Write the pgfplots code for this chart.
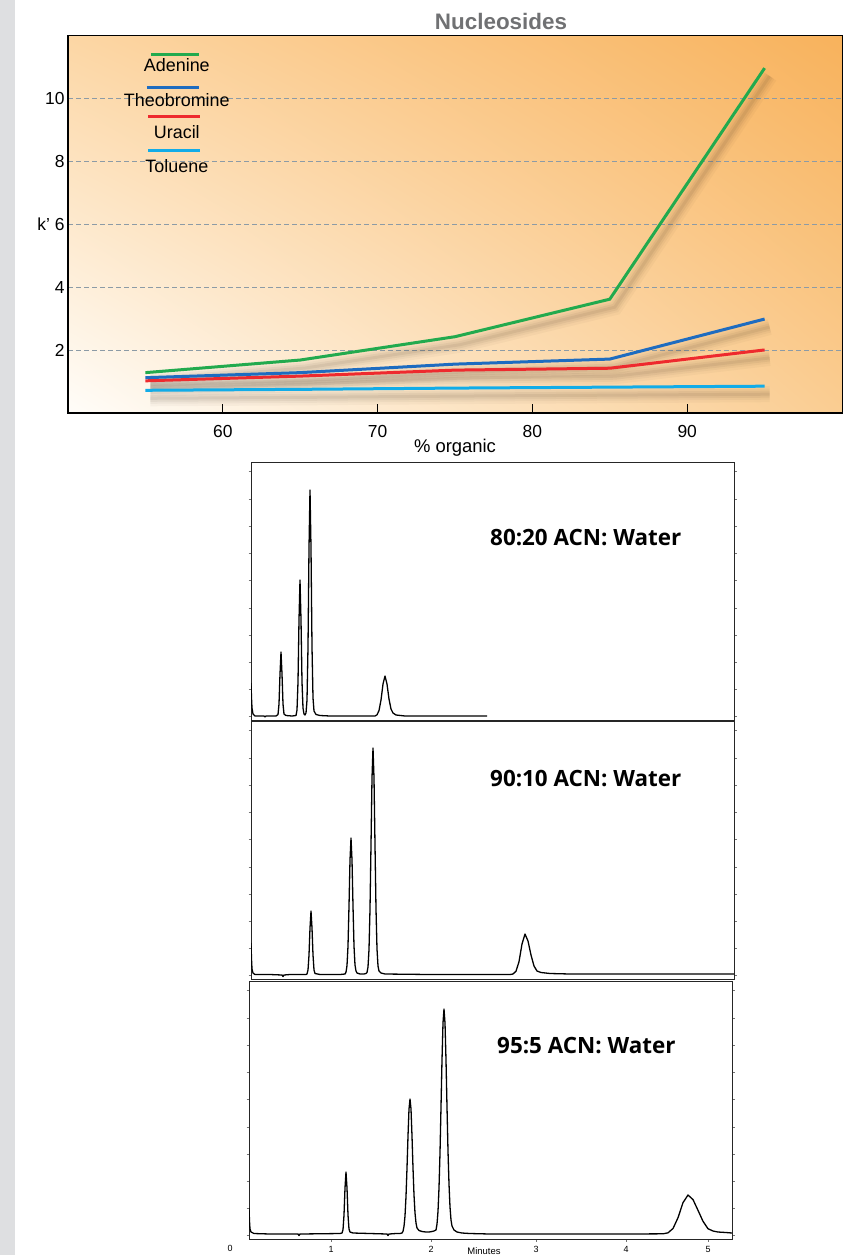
\documentclass[border=0pt]{standalone}
\usepackage{fontspec}
\setmainfont{Liberation Sans}
\newfontfamily\chromfont{Open Sans}
\usepackage{pgfplots}
\pgfplotsset{compat=1.18}
\usepackage{pgfplotstable}
\usetikzlibrary{shadings}
\definecolor{cgreen}{HTML}{22AA4E}
\definecolor{cblue}{HTML}{1E6CC0}
\definecolor{cred}{HTML}{EE2A2E}
\definecolor{ccyan}{HTML}{12ACE8}
\definecolor{stripgray}{HTML}{DEDFE1}
\definecolor{gridc}{HTML}{8C9BA6}
\definecolor{titlegray}{HTML}{707173}
\definecolor{bgUR}{HTML}{F8B25C}
\definecolor{bgUL}{HTML}{FCD6A4}
\definecolor{bgLR}{HTML}{FACD92}
\definecolor{bgLL}{HTML}{FFFDF9}
\definecolor{shadc}{HTML}{3A2A1A}

\pgfplotstableread{
x y
55 1.29
65 1.69
75 2.43
85 3.62
95 10.95
}\adenine
\pgfplotstableread{
x y
55 1.13
65 1.29
75 1.56
85 1.72
95 2.99
}\theobromine
\pgfplotstableread{
x y
55 1.03
65 1.18
75 1.37
85 1.43
95 2.01
}\uracil
\pgfplotstableread{
x y
55 0.73
65 0.76
75 0.80
85 0.83
95 0.86
}\toluene

\pgfplotsset{
  shad1/.style={shadc, opacity=0.035, line width=16bp, xshift=5bp, yshift=-8bp, forget plot},
  shad2/.style={shadc, opacity=0.045, line width=11bp, xshift=5bp, yshift=-8bp, forget plot},
  shad3/.style={shadc, opacity=0.06, line width=7bp, xshift=5bp, yshift=-8bp, forget plot},
  shad4/.style={shadc, opacity=0.07, line width=3bp, xshift=5bp, yshift=-8bp, forget plot},
  chrom/.style={width=483bp, height=258bp, scale only axis, anchor=south west,
    ymin=0, ymax=258, xtick=\empty,
    ytick={4,31,58,85,112,140,167,194,221,249},
    yticklabel style={text opacity=0},
    tick align=outside, ytick pos=both, major tick length=2.5bp,
    tick style={black!55, line width=0.5bp},
    axis line style={black!85, line width=0.8bp}},
  trace/.style={black, line width=1.3bp, no markers, line join=round},
}

\begin{document}
\begin{tikzpicture}
\useasboundingbox (0,0) rectangle (853bp,-1255bp);
\fill[stripgray] (0,0) rectangle (15bp,-1255bp);

\node[font=\bfseries\fontsize{22.5}{26}\selectfont, text=titlegray] at (501bp,-21bp) {Nucleosides};

\begin{axis}[
  at={(68bp,-413.3bp)}, anchor=south west,
  width=774bp, height=378.3bp, scale only axis,
  xmin=50, xmax=100, ymin=0, ymax=12,
  xtick={60,70,80,90}, xticklabels={60,70,80,90},
  ytick={2,4,6,8,10}, yticklabels={2,4,{k’ 6},8,10},
  xtick pos=bottom, ytick pos=left,
  tick align=inside, major tick length=9bp,
  xtick style={line width=1.3bp, black},
  ytick style={/pgfplots/major tick length=0pt},
  ymajorgrids,
  major grid style={line width=0.8bp, color=gridc, dash pattern=on 5bp off 3bp},
  ticklabel style={font=\fontsize{17.5}{20}\selectfont},
  xticklabel style={yshift=-9bp},
  axis line style={line width=1bp, black},
  axis background/.style={shade, lower left=bgLL, upper right=bgUR, upper left=bgUL, lower right=bgLR},
  clip=false,
]
\addplot[shad1] table {\adenine};
\addplot[shad1] table {\theobromine};
\addplot[shad1] table {\uracil};
\addplot[shad1] table {\toluene};
\addplot[shad2] table {\adenine};
\addplot[shad2] table {\theobromine};
\addplot[shad2] table {\uracil};
\addplot[shad2] table {\toluene};
\addplot[shad3] table {\adenine};
\addplot[shad3] table {\theobromine};
\addplot[shad3] table {\uracil};
\addplot[shad3] table {\toluene};
\addplot[shad4] table {\adenine};
\addplot[shad4] table {\theobromine};
\addplot[shad4] table {\uracil};
\addplot[shad4] table {\toluene};
\addplot[ccyan, line width=3bp] table {\toluene};
\addplot[cred, line width=3bp] table {\uracil};
\addplot[cblue, line width=3bp] table {\theobromine};
\addplot[cgreen, line width=3bp] table {\adenine};

\draw[line width=2bp] (rel axis cs:0,1) -- (rel axis cs:0,0) -- (rel axis cs:1,0);

\draw[cgreen, line width=2.8bp] (axis cs:55.35,11.37) -- (axis cs:58.45,11.37);
\node[font=\fontsize{18}{20}\selectfont] at (axis cs:57.03,11.03) {Adenine};
\draw[cblue, line width=2.8bp] (axis cs:55.1,10.33) -- (axis cs:58.45,10.33);
\node[font=\fontsize{18}{20}\selectfont] at (axis cs:57.03,9.95) {Theobromine};
\draw[cred, line width=2.8bp] (axis cs:55.2,9.41) -- (axis cs:58.5,9.41);
\node[font=\fontsize{18}{20}\selectfont] at (axis cs:57.03,8.93) {Uracil};
\draw[ccyan, line width=2.8bp] (axis cs:55.2,8.33) -- (axis cs:58.5,8.33);
\node[font=\fontsize{18}{20}\selectfont] at (axis cs:57.03,7.85) {Toluene};

\node[font=\fontsize{18.5}{20}\selectfont] at (axis description cs:0.5,0) [yshift=-34bp] {\% organic};
\end{axis}

% ---------- 80:20 ----------
\begin{axis}[chrom, at={(251bp,-720bp)}, xmin=0.21, xmax=5.04]
\addplot[trace] coordinates {
(0.21,37)(0.215,22)(0.22,12)(0.23,6)(0.25,4)(0.30,4)(0.34,4)(0.35,3)(0.36,4)(0.46,4)
(0.48,5.5)(0.49,16)(0.50,46)(0.51,68)(0.52,46)(0.53,16)(0.54,6)(0.56,4.5)(0.62,4)(0.66,4.5)
(0.67,10)(0.68,38)(0.69,100)(0.70,140)(0.71,100)(0.72,38)(0.73,12)(0.74,6)(0.75,5)
(0.76,7)(0.77,20)(0.78,73)(0.79,172)(0.80,230)(0.81,172)(0.82,73)(0.83,22)(0.84,9)(0.86,5.5)(0.90,4.5)(1.0,4)(1.3,4)(1.45,4)
(1.47,5.2)(1.49,9.4)(1.51,20)(1.53,36)(1.55,44)(1.57,36)(1.59,21)(1.61,11)(1.63,7)(1.66,5)(1.75,4)(2.0,4)(2.3,4)(2.57,4)
};
\end{axis}
\node[font=\chromfont\bfseries\fontsize{22.5}{26}\selectfont, anchor=base west, inner sep=0pt] at (490bp,-545bp) {80:20 ACN: Water};

% ---------- 90:10 ----------
\begin{axis}[chrom, at={(251bp,-979bp)}, xmin=0.21, xmax=5.04]
\addplot[trace] coordinates {
(0.21,36)(0.215,20)(0.22,10)(0.23,6)(0.25,4.5)(0.40,4.5)(0.52,4)(0.53,2.5)(0.54,4)(0.60,4.5)(0.76,4.5)
(0.77,5)(0.78,9)(0.79,24)(0.80,51)(0.81,68)(0.82,51)(0.83,24)(0.84,9)(0.85,5.5)(0.90,4.5)(1.10,4.5)
(1.15,5)(1.16,6.8)(1.17,13.5)(1.18,33)(1.19,73)(1.20,119)(1.21,141)(1.22,119)(1.23,73)(1.24,33)(1.25,14)(1.26,8)(1.27,6)(1.30,5)(1.34,5)
(1.36,5.5)(1.37,6.5)(1.38,12)(1.39,29.5)(1.40,70)(1.41,134)(1.42,201)(1.43,231)(1.44,201)(1.45,134)(1.46,70)(1.47,30)(1.48,13)(1.49,8)(1.51,6)(1.55,5)(2.0,4.5)(2.6,4.5)
(2.80,4.5)(2.83,5)(2.86,7.8)(2.89,17.3)(2.92,35)(2.95,45)(2.98,38)(3.01,24)(3.04,13)(3.07,8)(3.11,6.5)(3.20,5.5)(3.40,5)(4.0,5)(4.5,5)(5.04,5)
};
\end{axis}
\node[font=\chromfont\bfseries\fontsize{22.5}{26}\selectfont, anchor=base west, inner sep=0pt] at (490bp,-786.5bp) {90:10 ACN: Water};

% ---------- 95:5 ----------
\begin{axis}[chrom, at={(249bp,-1239bp)}, xmin=0.19, xmax=5.02,
  xtick={1.01,2.01,3.06,3.96,4.78}, xticklabels={1,2,3,4,5}, xtick pos=bottom,
  minor x tick num=4, minor tick length=1.5bp,
  xticklabel style={font=\fontsize{9}{10}\selectfont, yshift=-1bp, text opacity=1}]
\addplot[trace] coordinates {
(0.19,31)(0.195,18)(0.20,10)(0.21,7)(0.24,5.5)(0.40,5)(0.68,5)(0.69,3.5)(0.70,5)(1.10,5.5)
(1.12,6)(1.13,9.3)(1.14,24)(1.15,51)(1.16,67)(1.17,51)(1.18,24)(1.19,10)(1.20,7)(1.23,6)(1.40,5.5)(1.57,5)(1.58,3.5)(1.59,5)(1.66,5.5)
(1.70,5.5)(1.72,6)(1.73,7.7)(1.74,12.6)(1.75,23)(1.76,42.5)(1.77,71)(1.78,103)(1.79,130)(1.80,140)(1.81,130)(1.82,103)(1.83,71)(1.84,44)(1.85,26)(1.86,16)(1.87,11)(1.89,8.5)(1.92,7.5)(1.96,7)(1.99,7)(2.02,7.5)
(2.04,8)(2.06,9)(2.07,14.9)(2.08,27.6)(2.09,51)(2.10,86)(2.11,132)(2.12,179)(2.13,216)(2.14,230)(2.15,216)(2.16,179)(2.17,132)(2.18,88)(2.19,55)(2.20,32)(2.21,19)(2.22,13)(2.24,9)(2.27,7)(2.32,6)(2.40,5.5)(2.6,5)(3.0,5)(3.5,5)(4.0,5)(4.33,5.2)
(4.38,6.2)(4.43,10.5)(4.48,21.3)(4.53,36.4)(4.58,44)(4.63,39.4)(4.68,28.7)(4.73,17.7)(4.78,10.3)(4.83,8)(4.88,7)(4.96,6.5)(5.02,6)
};
\end{axis}
\node[font=\chromfont\bfseries\fontsize{22.5}{26}\selectfont, anchor=base west, inner sep=0pt] at (497bp,-1053.5bp) {95:5 ACN: Water};
\node[font=\fontsize{9}{10}\selectfont] at (230bp,-1248bp) {0};
\node[font=\fontsize{9.5}{10}\selectfont, anchor=north, inner sep=0pt] at (484bp,-1247bp) {Minutes};
\end{tikzpicture}
\end{document}
